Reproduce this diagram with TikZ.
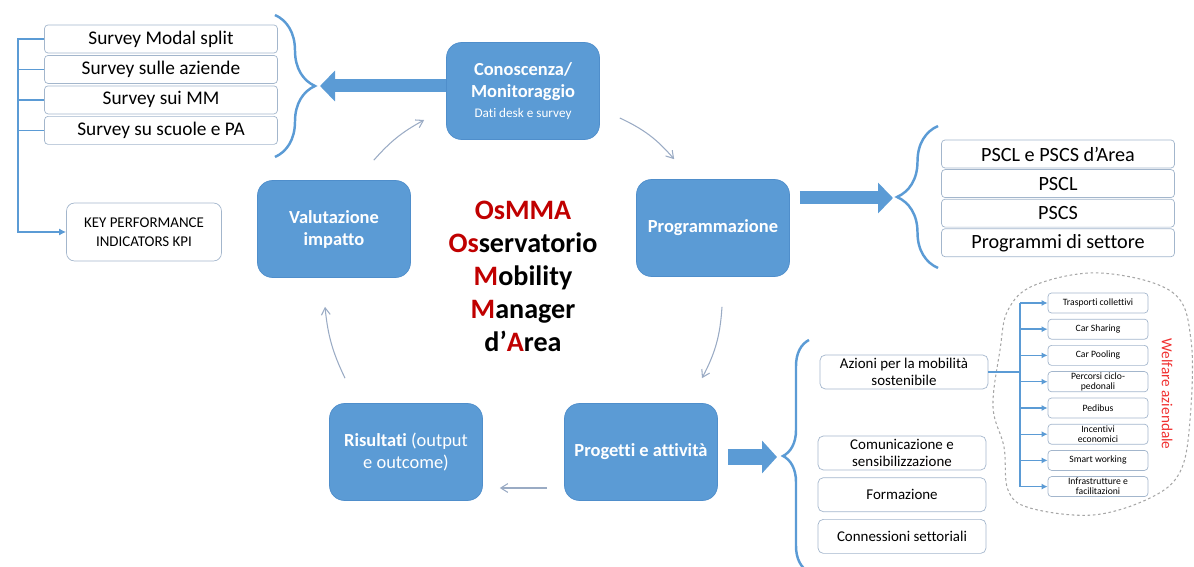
\documentclass[tikz,border=0pt]{standalone}
\usepackage{fontspec}
\setmainfont{Carlito}[Ligatures=CommonOff]
\usepackage{xcolor}
\usepackage{tikz}
\usetikzlibrary{positioning,arrows.meta,decorations.pathreplacing}

\definecolor{boxblue}{HTML}{5B9BD5}
\definecolor{boxedge}{HTML}{4F8ECB}
\definecolor{rowedge}{HTML}{A3B6CC}
\definecolor{cyclegray}{HTML}{9AABC4}
\definecolor{osred}{HTML}{C00000}
\definecolor{welfred}{HTML}{F03030}

\tikzset{
  phase/.style={draw=boxedge, fill=boxblue, rounded corners=0.3cm, minimum width=3.06cm, minimum height=1.94cm,
    text=white, align=center, font=\fontsize{10.5}{12.5}\selectfont\bfseries},
  row/.style={draw=rowedge, fill=white, rounded corners=2pt, minimum width=4.66cm, minimum height=0.56cm,
    inner sep=1pt, font=\fontsize{11}{13}\selectfont},
  plan/.style={row, font=\fontsize{11.5}{13}\selectfont},
  kpibox/.style={draw=rowedge, rounded corners=0.16cm, minimum width=3.1cm, minimum height=1.16cm,
    align=center, font=\fontsize{8.5}{10.5}\selectfont},
  act/.style={draw=rowedge, rounded corners=3pt, minimum width=3.36cm, minimum height=0.68cm,
    align=center, inner sep=1pt, font=\fontsize{8.5}{10}\selectfont},
  welf/.style={draw=rowedge, rounded corners=2pt, minimum width=2cm, minimum height=0.4cm,
    align=center, inner sep=0.5pt, font=\fontsize{5.5}{5.8}\selectfont},
  cyc/.style={draw=cyclegray, line width=0.6pt, -{Straight Barb[length=4pt,width=5pt]}},
  bigarrow/.style={draw=boxblue, line width=0.26cm, -{Triangle[length=0.3cm,width=0.6cm]}},
  bracebar/.style={draw=boxblue, line width=1.4pt, decorate},
  feed/.style={draw=boxblue, line width=0.8pt},
  cloudline/.style={draw=gray!70, line width=0.6pt, dash pattern=on 1.5pt off 1.5pt}
}

\begin{document}
\begin{tikzpicture}[x=0.02cm, y=-0.02cm]
    \useasboundingbox (0,0) rectangle (1194,567);

    % Nodes
    \node (con) [phase] at (523,91) {Conoscenza/\\Monitoraggio\\[-1pt]{\mdseries\fontsize{7.5}{9}\selectfont Dati desk e survey}};
    \node (prog) [phase] at (713,228) {Programmazione};
    \node (prj) [phase] at (641,452) {Progetti e attività};
    \node (ris) [phase, font=\fontsize{10.5}{12.5}\selectfont] at (406,452) {\textbf{Risultati} (output\\e outcome)};
    \node (val) [phase] at (334,229) {Valutazione\\impatto};

    \node (osmma) [align=center, font=\fontsize{16}{18.8}\selectfont\bfseries] at (523,276)
      {\textcolor{osred}{OsMMA}\\\textcolor{osred}{Os}servatorio\\\textcolor{osred}{M}obility\\\textcolor{osred}{M}anager\\d’\textcolor{osred}{A}rea};

    \node (sv1) [row] at (161,39) {Survey Modal split};
    \node (sv2) [row, below=1pt of sv1] {Survey sulle aziende};
    \node (sv3) [row, below=1pt of sv2] {Survey sui MM};
    \node (sv4) [row, below=1pt of sv3] {Survey su scuole e PA};
    \node (kpi) [kpibox] at (144,232) {KEY PERFORMANCE\\INDICATORS KPI};

    \node (pl1) [plan] at (1058,154) {PSCL e PSCS d’Area};
    \node (pl2) [plan, below=0.5pt of pl1] {PSCL};
    \node (pl3) [plan, below=0.5pt of pl2] {PSCS};
    \node (pl4) [plan, below=0.5pt of pl3] {Programmi di settore};

    \node (az) [act] at (904,372) {Azioni per la mobilità\\sostenibile};
    \node (com) [act] at (902,453) {Comunicazione e\\sensibilizzazione};
    \node (form) [act, below=0.14cm of com] {Formazione};
    \node (conn) [act, below=0.14cm of form] {Connessioni settoriali};

    \node (w1) [welf] at (1098,303) {Trasporti collettivi};
    \node (w2) [welf, below=0.11cm of w1] {Car Sharing};
    \node (w3) [welf, below=0.11cm of w2] {Car Pooling};
    \node (w4) [welf, below=0.11cm of w3] {Percorsi ciclo-\\pedonali};
    \node (w5) [welf, below=0.11cm of w4] {Pedibus};
    \node (w6) [welf, below=0.11cm of w5] {Incentivi\\economici};
    \node (w7) [welf, below=0.11cm of w6] {Smart working};
    \node (w8) [welf, below=0.11cm of w7] {Infrastrutture e\\facilitazioni};
    \node (welfare) [rotate=-90, text=welfred, font=\fontsize{8.7}{10}\selectfont] at (1167,394) {Welfare aziendale};

    % Cloud round the welfare items
    \draw[cloudline] plot[smooth cycle, tension=0.6] coordinates {(1100,273) (1172,292) (1191,340) (1190,420) (1180,472)
      (1150,498) (1093,515) (1030,508) (1008,490) (1004,447) (993,407) (1000,350) (1008,310) (1035,285)};

    % Braces
    \coordinate (lbtip) at (320,86);
    \coordinate (rbtip) at (893,198);
    \coordinate (bbtip) at (777,457);
    \draw[bracebar, decoration={brace, amplitude=0.8cm}] (275,15) -- (275,157);
    \draw[bracebar, decoration={brace, amplitude=0.82cm}] (938,268) -- (938,126);
    \draw[bracebar, decoration={brace, amplitude=0.52cm}] (809,572) -- (809,340);

    % Arrows
    \draw[bigarrow] (con.west |- lbtip) -- (lbtip);
    \draw[bigarrow, shorten <=0.2cm] (prog.east |- rbtip) -- (rbtip);
    \draw[bigarrow, line width=0.34cm, -{Triangle[length=0.3cm,width=0.64cm]}, shorten <=0.2cm] (prj.east |- bbtip) -- (bbtip);

    \draw[cyc] ([xshift=-0.74cm,yshift=0.4cm]val.north east) to[bend left=10] ([xshift=-0.44cm,yshift=-0.58cm]con.west);
    \draw[cyc] ([xshift=0.4cm,yshift=-0.54cm]con.east) to[bend left=12] ([xshift=0.76cm,yshift=0.4cm]prog.north west);
    \draw[cyc] ([xshift=0.18cm,yshift=-0.6cm]prog.south) to[bend left=12] ([xshift=1.22cm,yshift=0.5cm]prj.north);
    \draw[cyc] ([xshift=-0.34cm,yshift=-0.72cm]prj.west) -- ([xshift=0.34cm,yshift=-0.72cm]ris.east);
    \draw[cyc] ([xshift=-1.22cm,yshift=0.5cm]ris.north) to[bend left=10] ([xshift=-0.18cm,yshift=-0.58cm]val.south);

    \coordinate (bus) at (18,39);
    \draw[feed, -{Latex[length=4pt,width=4pt]}] (sv1.west) -- (bus) |- (kpi.west);
    \draw[feed] (sv2.west) -- (sv2.west -| bus);
    \draw[feed] (sv3.west) -- (sv3.west -| bus);
    \draw[feed] (sv4.west) -- (sv4.west -| bus);

    \coordinate (hub) at (1020,372);
    \draw[feed] (az.east) -- (hub);
    \draw[feed] (hub |- w1.west) -- (hub |- w8.west);
    \draw[feed, -{Latex[length=3.5pt,width=3.5pt]}] (hub |- w1.west) -- (w1.west);
    \draw[feed, -{Latex[length=3.5pt,width=3.5pt]}] (hub |- w2.west) -- (w2.west);
    \draw[feed, -{Latex[length=3.5pt,width=3.5pt]}] (hub |- w3.west) -- (w3.west);
    \draw[feed, -{Latex[length=3.5pt,width=3.5pt]}] (hub |- w4.west) -- (w4.west);
    \draw[feed, -{Latex[length=3.5pt,width=3.5pt]}] (hub |- w5.west) -- (w5.west);
    \draw[feed, -{Latex[length=3.5pt,width=3.5pt]}] (hub |- w6.west) -- (w6.west);
    \draw[feed, -{Latex[length=3.5pt,width=3.5pt]}] (hub |- w7.west) -- (w7.west);
    \draw[feed, -{Latex[length=3.5pt,width=3.5pt]}] (hub |- w8.west) -- (w8.west);
\end{tikzpicture}
\end{document}
